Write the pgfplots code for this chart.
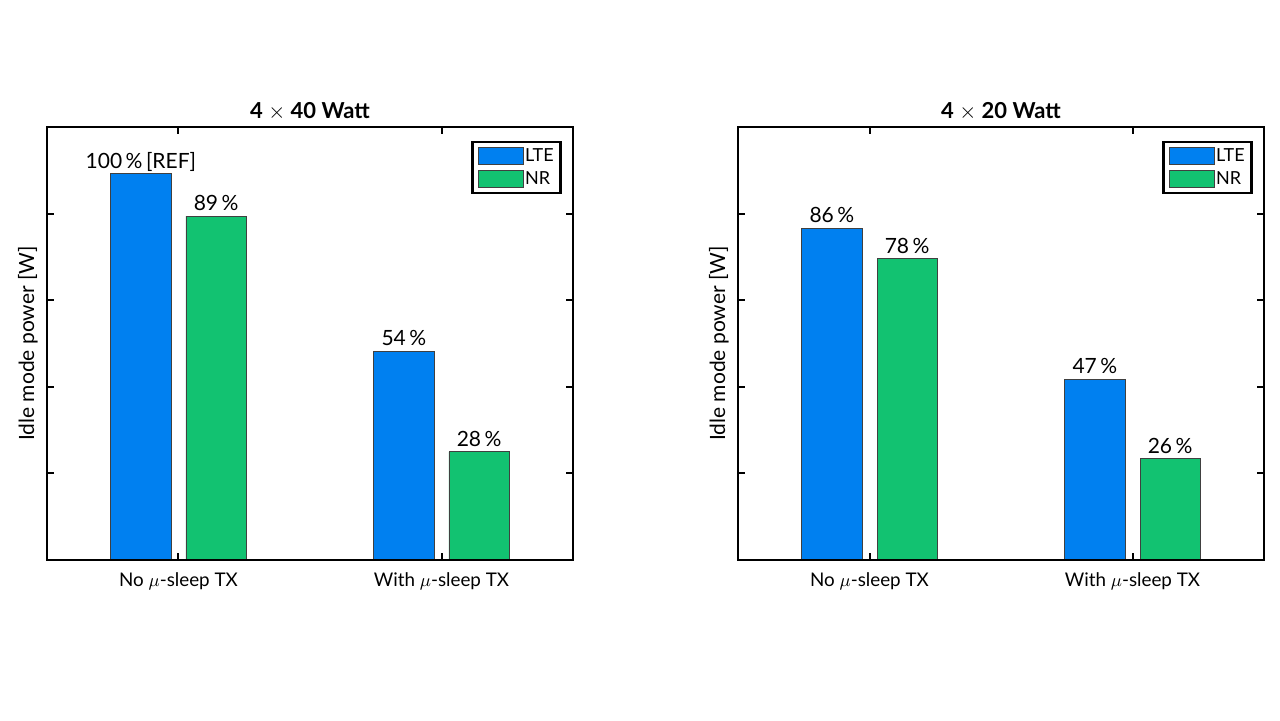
\documentclass[border=0pt]{standalone}
\usepackage{fontspec}
\setmainfont{Lato}
\usepackage{pgfplots}
\usepackage{pgfplotstable}
\pgfplotsset{compat=1.18}
\definecolor{ltec}{RGB}{0,128,240}
\definecolor{nrc}{RGB}{18,194,113}

\pgfplotstableread{
x y lab
0.857 4.46 {100\,\%\,[REF]}
1.857 2.41 {54\,\%}
}\lteA
\pgfplotstableread{
x y lab
1.143 3.97 {89\,\%}
2.143 1.25 {28\,\%}
}\nrA
\pgfplotstableread{
x y lab
0.857 3.83 {86\,\%}
1.857 2.09 {47\,\%}
}\lteB
\pgfplotstableread{
x y lab
1.143 3.48 {78\,\%}
2.143 1.17 {26\,\%}
}\nrB

\pgfplotsset{
 myax/.style={
  scale only axis, width=263pt, height=216.5pt, anchor=south west,
  xmin=0.5, xmax=2.5, ymin=0, ymax=5,
  xtick={1,2}, xticklabels={No $\mu$-sleep TX, With $\mu$-sleep TX},
  ytick={0,1,2,3,4,5}, yticklabels={},
  tick align=inside, major tick length=3.3pt,
  every tick/.style={black, line width=1pt},
  axis line style={line width=1.1pt},
  axis on top,
  font=\fontsize{10.5}{12}\selectfont,
  ylabel={Idle mode power [W]},
  ylabel style={at={(axis description cs:-0.0365,0.5)}, anchor=center, font=\fontsize{10.5}{12}\selectfont},
  every axis title shift=0pt,
  title style={at={(axis description cs:0.5,1.0196)}, anchor=base, font=\fontsize{11}{13}\selectfont\bfseries},
  xticklabel style={anchor=base, yshift=-13pt, font=\fontsize{9.4}{11}\selectfont},
  nodes near coords, point meta=explicit symbolic,
  nodes near coords style={anchor=base, yshift=2.8pt, font=\fontsize{10.5}{12}\selectfont},
  legend image code/.code={\draw[#1, line width=0.4pt] (0pt,-4.3pt) rectangle (22.5pt,4.3pt);},
  legend cell align=left,
  legend style={at={(rel axis cs:0.979,0.968)}, anchor=north east, draw=black, line width=1.3pt,
    fill=white, inner xsep=3pt, inner ysep=2.5pt, row sep=2.5pt,
    nodes={inner sep=0.5pt},
    font=\fontsize{9}{10}\selectfont,
    /tikz/every even column/.append style={column sep=2pt}},
 },
 ltebar/.style={ybar, bar width=0.229, bar shift=0pt, fill=ltec, draw=black!75, line width=0.4pt},
 nrbar/.style={ybar, bar width=0.229, bar shift=0pt, fill=nrc, draw=black!75, line width=0.4pt},
}

\begin{document}
\begin{tikzpicture}
\path (0pt,0pt) rectangle (640pt,360pt);
\begin{axis}[myax, at={(23.5pt,80pt)}, title={4 $\times$ 40 Watt}]
\addplot[ltebar] table[x=x, y=y, meta=lab] {\lteA};
\addplot[nrbar] table[x=x, y=y, meta=lab] {\nrA};
\legend{LTE, NR}
\end{axis}
\begin{axis}[myax, at={(369pt,80pt)}, title={4 $\times$ 20 Watt}]
\addplot[ltebar] table[x=x, y=y, meta=lab] {\lteB};
\addplot[nrbar] table[x=x, y=y, meta=lab] {\nrB};
\legend{LTE, NR}
\end{axis}
\end{tikzpicture}
\end{document}
